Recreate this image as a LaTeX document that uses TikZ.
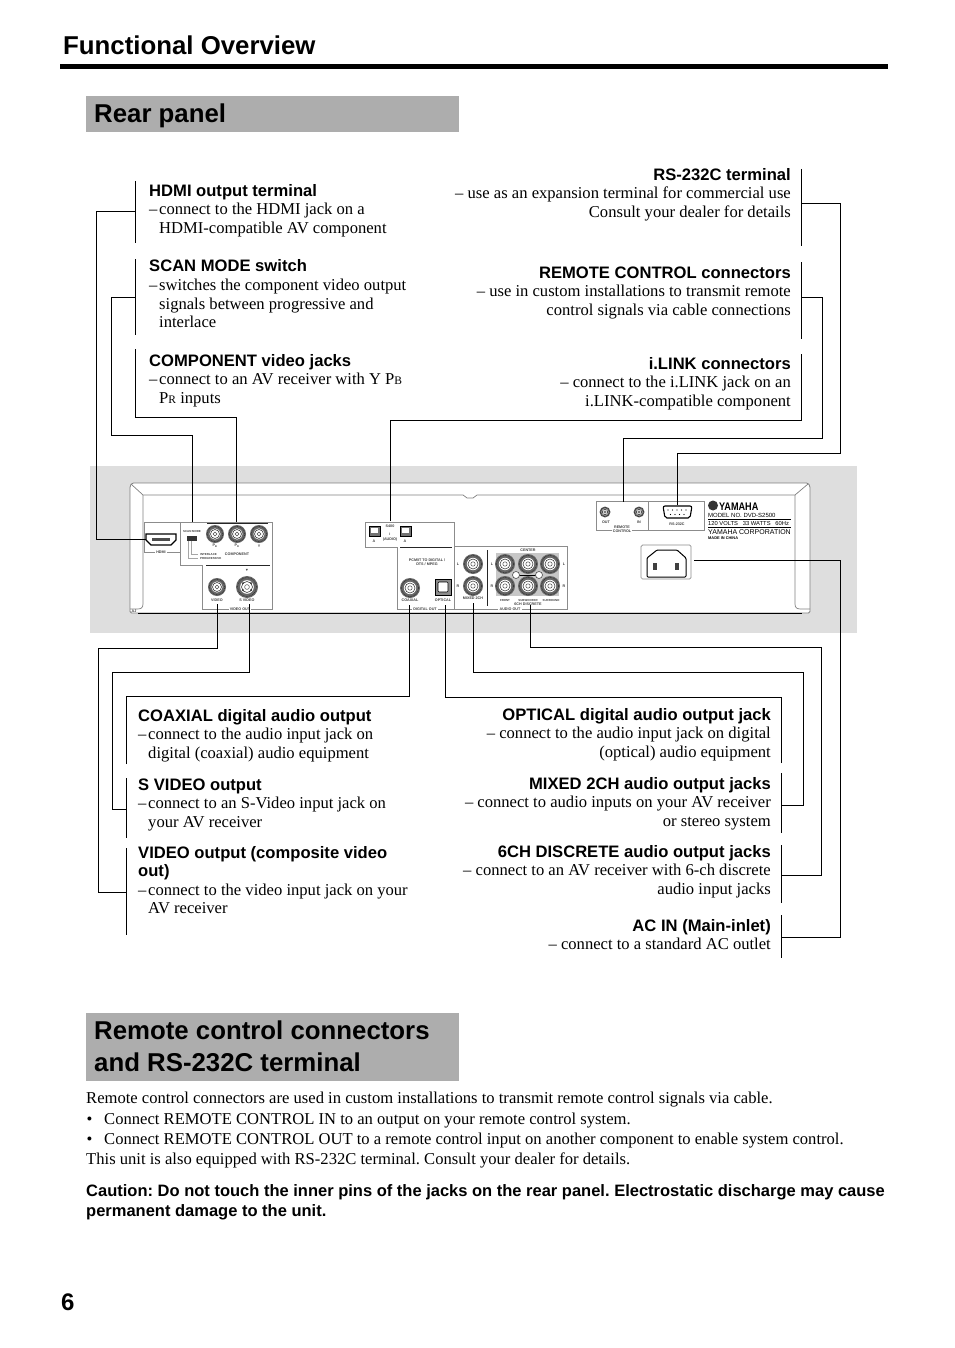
\documentclass[tikz,border=0pt]{standalone}
\usepackage{fontspec}
\setmainfont{Liberation Serif}
\setsansfont{Liberation Sans}
\newcommand\capf{\sffamily\bfseries\fontsize{16.6}{18.5}\selectfont}
\newcommand\bodf{\rmfamily\fontsize{16.6}{18.5}\selectfont}
\newcommand\hd{\makebox[10pt][l]{–}}
\newcommand\ind{\hspace*{10pt}}
\tikzset{
  x=1pt,y=-1pt,
  lead/.style={draw=black,line width=1pt,line join=miter},
  lbleft/.style={anchor=base west,inner sep=0pt,text width=330pt,align=flush left,font=\bodf},
  lbright/.style={anchor=base east,inner sep=0pt,text width=380pt,align=flush right,font=\bodf},
  head/.style={anchor=base west,inner sep=0pt,font=\sffamily\bfseries\fontsize{25.8}{32}\selectfont,align=left},
  para/.style={anchor=base west,inner sep=0pt,font=\bodf},
  tinyt/.style={inner sep=0pt,font=\sffamily\bfseries\fontsize{3.7}{4.4}\selectfont,text=black!75,align=center},
  tinier/.style={tinyt,font=\sffamily\bfseries\fontsize{2.9}{3.6}\selectfont},
  gapped/.style={tinyt,fill=white,inner xsep=1.2pt,inner ysep=.4pt},
  frame/.style={draw=black!45,line width=.7pt,line join=miter},
  dark/.style={draw=black!85,line width=.9pt},
}
\newcommand\jack[3]{%
  \fill[black!60] (#1,#2) circle[radius=#3pt];
  \draw[black!85,line width=.5pt,dash pattern=on .8pt off .8pt] (#1,#2) circle[radius=#3pt*.86];
  \fill[white] (#1,#2) circle[radius=#3pt*.62];
  \draw[black!75,line width=.6pt] (#1,#2) circle[radius=#3pt*.5];
  \draw[black!70,line width=.5pt] (#1,#2) circle[radius=#3pt*.22];
}
\newcommand\tl[4]{\node[tinyt] (#1) at (#2,#3) {#4};}
\newcommand\tk[4]{\node[tinier] (#1) at (#2,#3) {#4};}
\begin{document}
\frenchspacing
\begin{tikzpicture}
\useasboundingbox (0,0) rectangle (954,1348);
\fill[white] (0,0) rectangle (954,1348);

% headings
\node[head] (title) at (63,54.5) {Functional Overview};
\fill[black] (60,64.5) rectangle (888,69);
\fill[black!32] (86,96) rectangle (459,132);
\node[head] (rear) at (94,122.5) {Rear panel};
\fill[black!32] (86,1013) rectangle (459,1081);
\node[head] (remotehead) at (94,1071.5) {Remote control connectors\\and RS-232C terminal};

% grey band and unit
\fill[black!13] (90,466) rectangle (857,633);
\filldraw[fill=white,draw=black!50,line width=.8pt,rounded corners=1.5pt]
  (130,613) -- (130,486) -- (132,483) -- (808,483) -- (810,486) -- (810,613) -- cycle;
\draw[black!50,line width=.7pt] (131,484) -- (143,495) -- (463,495) -- (467,498) -- (473,498) -- (477,495) -- (795,495) -- (808,484);
\draw[black!50,line width=.7pt] (143,495) -- (143,604) .. controls (143,608) and (141,609) .. (137,609) -- (130,609);
\draw[black!50,line width=.7pt] (795,495) -- (795,604) .. controls (795,608) and (797,609) .. (801,609) -- (810,609);
\tl{tlaj}{134}{611.5}{AJ}

% video frame
\draw[frame] (144,522) -- (272.7,522) -- (272.7,609) -- (202,609) -- (202,565) -- (180,565) -- (180,522);
\draw[frame] (144,522) -- (144,552) -- (180,552);
\draw[dark] (207,523) -- (268,523);
\draw[dark] (206,565) -- (270,565);
% HDMI port
\filldraw[fill=white,draw=black,line width=1.2pt] (146,534) -- (176,534) -- (176,540) -- (171,545) -- (151,545) -- (146,540) -- cycle;
\fill[black!70] (152,537.5) rectangle (170,541);
\node[gapped] (tlhdmi) at (161,552) {HDMI};
\tk{tlscan}{192}{531}{SCAN MODE}
\fill[black!80] (187,535.5) rectangle (197,541);
\draw[black!35,line width=.5pt] (188,541) -- (188,558) -- (198,558);
\draw[black!35,line width=.5pt] (191,541) -- (191,554) -- (198,554);
\node[tinier,anchor=west] (tlint) at (200,554) {INTERLACE};
\node[tinier,anchor=west] (tlprog) at (200,558) {PROGRESSIVE};
\jack{215}{534}{9}
\jack{237}{534}{9}
\jack{259}{534}{9}
\tl{tlpb}{215}{546}{P\textsubscript{B}}
\tl{tlpr}{237}{546}{P\textsubscript{R}}
\tl{tly}{259}{546}{Y}
\tl{tlcomp}{237}{554}{COMPONENT}
\tl{tlvmark}{247}{570}{▼}
\jack{217}{587}{9}
\jack{247}{587}{11}
\fill[black!85] (243,583) circle[radius=1pt] (251,583) circle[radius=1pt] (243,590) circle[radius=1pt] (251,590) circle[radius=1pt];
\tl{tlvid}{217}{600}{VIDEO}
\tl{tlsvid}{247}{600}{S VIDEO}
\node[gapped] (tlvout) at (240,609) {VIDEO OUT};

% i.LINK + digital frame
\draw[frame] (365,522) -- (454,522) -- (454,609) -- (397,609) -- (397,547) -- (365,547) -- cycle;
\draw[dark] (400,547) -- (452,547);
\filldraw[fill=black!55,draw=black,line width=.6pt] (369,526) rectangle (380,536);
\fill[white] (371,528) rectangle (378,533);
\filldraw[fill=black!55,draw=black,line width=.6pt] (400,526) rectangle (411,536);
\fill[white] (402,528) rectangle (409,533);
\tl{tls400}{390}{526}{S400}
\tl{tli}{390}{534}{i}
\tl{tlaud}{390}{540}{(AUDIO)}
\tl{tla1}{374}{541}{A}
\tl{tla2}{405}{541}{A}
\tl{tlpcm}{427}{562}{PCM/IT TO DIGITAL /\\DTS / MPEG}
\jack{410}{588}{10}
\filldraw[fill=black!45,draw=black,line width=.7pt] (435,579) rectangle (451,595);
\filldraw[fill=white,draw=black,line width=.6pt,rounded corners=1pt] (438,582) rectangle (448,592);
\tl{tlcoax}{410}{600}{COAXIAL}
\tl{tlopt}{443}{600}{OPTICAL}
\node[gapped] (tldout) at (425,609) {DIGITAL OUT};

% audio frame
\draw[frame] (454,546) -- (567,546) -- (567,609) -- (454,609);
\draw[dark] (487,550) -- (487,606);
\fill[black!22] (496,553) rectangle (559,596);
\jack{473}{564}{10}
\jack{473}{586}{10}
\jack{505}{564}{10}
\jack{528}{564}{10}
\jack{550}{564}{10}
\jack{505}{586}{10}
\jack{528}{586}{10}
\jack{550}{586}{10}
\draw[black,line width=.9pt] (516,575) -- (539,575);
\filldraw[fill=white,draw=black!70,line width=.6pt] (516,575) circle[radius=3.5pt];
\filldraw[fill=white,draw=black!70,line width=.6pt] (539,575) circle[radius=3.5pt];
\tl{tll1}{458}{564}{L}
\tl{tlr1}{458}{586}{R}
\tl{tll2}{492}{564}{L}
\tl{tlr2}{492}{586}{R}
\tl{tll3}{564}{564}{L}
\tl{tlr3}{564}{586}{R}
\tl{tlcenter}{528}{550}{CENTER}
\tk{tlfront}{505}{600}{FRONT}
\tk{tlsub}{528}{600}{SUBWOOFER}
\tk{tlsur}{551}{600}{SURROUND}
\node[gapped] (tlaout) at (510,609) {AUDIO OUT};
\tl{tl6ch}{528}{604.5}{6CH DISCRETE}
\tl{tlmix}{473}{598.5}{MIXED 2CH}

% thick lower edge of the unit
\draw[black,line width=1.7pt] (138,613.5) -- (802,613.5);

% remote / RS-232C
\draw[frame] (596,501) rectangle (704,530);
\draw[frame] (648,501) -- (648,530);
\jack{605}{512}{5.5}
\jack{639}{512}{5.5}
\tl{tlout}{606}{522}{OUT}
\tl{tlin}{639}{522}{IN}
\node[gapped] (tlrem) at (622,529.5) {REMOTE\\CONTROL};
\filldraw[fill=white,draw=black,line width=1.1pt,rounded corners=2pt] (663,506) -- (692,506) -- (690,518) -- (665,518) -- cycle;
\foreach \px in {668,672.5,677,681.5,686}{\fill[black] (\px,510) circle[radius=.7pt];}
\foreach \px in {670.5,675,679.5,684}{\fill[black] (\px,514.5) circle[radius=.7pt];}
\tl{tlrs}{677}{524.5}{RS-232C}

% Yamaha plate
\fill[black!80] (713,505.5) circle[radius=5pt];
\node[inner sep=0pt,anchor=base west,xscale=.83,font=\sffamily\bfseries\fontsize{11}{11}\selectfont] (yamaha) at (719,510.5) {YAMAHA};
\node[inner sep=0pt,anchor=base west,font=\sffamily\fontsize{6}{6}\selectfont] (model) at (708,517.5) {MODEL NO. DVD-S2500};
\draw[black,line width=.6pt] (708,519) -- (791,519);
\node[inner sep=0pt,anchor=base west,font=\sffamily\fontsize{5.8}{6}\selectfont] (volts) at (708,525.5) {120 VOLTS\ \ \ 33 WATTS\ \ \ 60Hz};
\draw[black,line width=.6pt] (708,527) -- (791,527);
\node[inner sep=0pt,anchor=base west,font=\sffamily\fontsize{7}{8}\selectfont] (corp) at (708,534) {YAMAHA CORPORATION};
\node[inner sep=0pt,anchor=base west,font=\sffamily\bfseries\fontsize{3.9}{5}\selectfont] (china) at (708,539.5) {MADE IN CHINA};

% AC inlet
\draw[black!45,line width=.7pt,rounded corners=1.5pt] (641,545) rectangle (691,579);
\draw[black,line width=1pt,rounded corners=1pt] (657,550) -- (677,550) -- (686,558) -- (686,577) -- (647,577) -- (647,558) -- cycle;
\fill[black!75] (653,563) rectangle (657,570);
\fill[black!75] (675,563) rectangle (679,570);

% coordinates on the unit
\coordinate (pHdmi) at (146,539);
\coordinate (pScan) at (192.7,522);
\coordinate (pComp) at (236.7,522);
\coordinate (pLink) at (390,521);
\coordinate (pRemote) at (623.5,502);
\coordinate (pRs) at (677,505);
\coordinate (pVideo) at (217,604);
\coordinate (pSvid) at (249.5,604);
\coordinate (pCoax) at (409.5,605);
\coordinate (pOpt) at (445.5,605);
\coordinate (pMix) at (473.5,603);
\coordinate (p6ch) at (530.5,605);
\coordinate (pAc) at (694,560);

% upper-left leaders
\coordinate (hdmiT) at (135,181); \coordinate (hdmiB) at (135,243); \coordinate (hdmiJ) at (135,211.5);
\coordinate (scanT) at (135,259); \coordinate (scanB) at (135,335); \coordinate (scanJ) at (135,297);
\coordinate (compT) at (135,349); \coordinate (compJ) at (135,417);
\draw[lead] (hdmiT) -- (hdmiB);
\draw[lead] (hdmiJ) -- ++(-38.5,0) |- (pHdmi);
\draw[lead] (scanT) -- (scanB);
\draw[lead] (scanJ) -- ++(-24,0) -- ++(0,138) -| (pScan);
\draw[lead] (compT) -- (compJ) -| (pComp);

% upper-right leaders
\coordinate (rsT) at (801.5,169); \coordinate (rsB) at (801.5,246); \coordinate (rsJ) at (801.5,203.5);
\coordinate (remT) at (801.5,262); \coordinate (remB) at (801.5,339); \coordinate (remJ) at (801.5,297.5);
\coordinate (lnkT) at (801.5,354); \coordinate (lnkJ) at (801.5,420);
\draw[lead] (rsT) -- (rsB);
\draw[lead] (rsJ) -- ++(39,0) -- ++(0,250) -| (pRs);
\draw[lead] (remT) -- (remB);
\draw[lead] (remJ) -- ++(21,0) -- ++(0,141) -| (pRemote);
\draw[lead] (lnkT) -- (lnkJ) -| (pLink);

% lower-left leaders
\coordinate (coaxJ) at (126,764); 
\coordinate (svT) at (126,778); \coordinate (svB) at (126,838); \coordinate (svJ) at (126,809);
\coordinate (viT) at (126,848); \coordinate (viB) at (126,935); \coordinate (viJ) at (126,892);
\draw[lead] (coaxJ) |- (409.5,696.5) -- (pCoax);
\draw[lead] (svT) -- (svB);
\draw[lead] (svJ) -- ++(-14,0) |- (249.5,672) -- (pSvid);
\draw[lead] (viT) -- (viB);
\draw[lead] (viJ) -- ++(-28,0) |- (217,648.5) -- (pVideo);

% lower-right leaders
\coordinate (optJ) at (781,763);
\coordinate (mxT) at (781.5,773); \coordinate (mxB) at (781.5,833); \coordinate (mxJ) at (781.5,805);
\coordinate (chT) at (781.5,845); \coordinate (chB) at (781.5,903); \coordinate (chJ) at (781.5,875);
\coordinate (acT) at (781.5,915); \coordinate (acB) at (781.5,958); \coordinate (acJ) at (781.5,937);
\draw[lead] (optJ) |- (445.5,697.5) -- (pOpt);
\draw[lead] (mxT) -- (mxB);
\draw[lead] (mxJ) -- ++(21.5,0) |- (473.5,672.5) -- (pMix);
\draw[lead] (chT) -- (chB);
\draw[lead] (chJ) -- ++(39.5,0) |- (530.5,647.5) -- (p6ch);
\draw[lead] (acT) -- (acB);
\draw[lead] (acJ) -- ++(59,0) |- (pAc);

% labels
\node[lbleft] (lHdmi) at (149,196.5) {{\capf HDMI output terminal}\\\hd connect to the HDMI jack on a\\\ind HDMI-compatible AV component};
\node[lbleft] (lScan) at (149,272) {{\capf SCAN MODE switch}\\\hd switches the component video output\\\ind signals between progressive and\\\ind interlace};
\node[lbleft] (lComp) at (149,366) {{\capf COMPONENT video jacks}\\\hd connect to an AV receiver with Y P{\fontsize{11.5}{11}\selectfont B}\\\ind P{\fontsize{11.5}{11}\selectfont R} inputs};
\node[lbright] (lRs) at (791,180.5) {{\capf RS-232C terminal}\\– use as an expansion terminal for commercial use\\Consult your dealer for details};
\node[lbright] (lRem) at (791,278) {{\capf REMOTE CONTROL connectors}\\– use in custom installations to transmit remote\\control signals via cable connections};
\node[lbright] (lLnk) at (791,369) {{\capf i.LINK connectors}\\– connect to the i.LINK jack on an\\i.LINK-compatible component};
\node[lbleft] (lCoax) at (138,721) {{\capf COAXIAL digital audio output}\\\hd connect to the audio input jack on\\\ind digital (coaxial) audio equipment};
\node[lbleft] (lSv) at (138,790) {{\capf S VIDEO output}\\\hd connect to an S-Video input jack on\\\ind your AV receiver};
\node[lbleft] (lVi) at (138,858) {{\capf VIDEO output (composite video}\\{\capf out)}\\\hd connect to the video input jack on your\\\ind AV receiver};
\node[lbright] (lOpt) at (771,720) {{\capf OPTICAL digital audio output jack}\\– connect to the audio input jack on digital\\(optical) audio equipment};
\node[lbright] (lMix) at (771,789) {{\capf MIXED 2CH audio output jacks}\\– connect to audio inputs on your AV receiver\\or stereo system};
\node[lbright] (l6ch) at (771,857) {{\capf 6CH DISCRETE audio output jacks}\\– connect to an AV receiver with 6-ch discrete\\audio input jacks};
\node[lbright] (lAc) at (771,931) {{\capf AC IN (Main-inlet)}\\– connect to a standard AC outlet};

% text at the bottom
\node[para] (p1) at (86,1103) {Remote control connectors are used in custom installations to transmit remote control signals via cable.};
\node[para] (b1) at (86.5,1124) {•};
\node[para] (p2) at (104,1124) {Connect REMOTE CONTROL IN to an output on your remote control system.};
\node[para] (b2) at (86.5,1144) {•};
\node[para] (p3) at (104,1144) {Connect REMOTE CONTROL OUT to a remote control input on another component to enable system control.};
\node[para] (p4) at (86,1164) {This unit is also equipped with RS-232C terminal. Consult your dealer for details.};
\node[anchor=base west,inner sep=0pt,align=flush left,font=\sffamily\bfseries\fontsize{16.5}{20}\selectfont,text width=830pt] (caution) at (86,1196) {Caution: Do not touch the inner pins of the jacks on the rear panel. Electrostatic discharge may cause\\permanent damage to the unit.};
\node[anchor=base west,inner sep=0pt,font=\sffamily\bfseries\fontsize{24}{24}\selectfont] (pageno) at (61,1310) {6};
\end{tikzpicture}
\end{document}
